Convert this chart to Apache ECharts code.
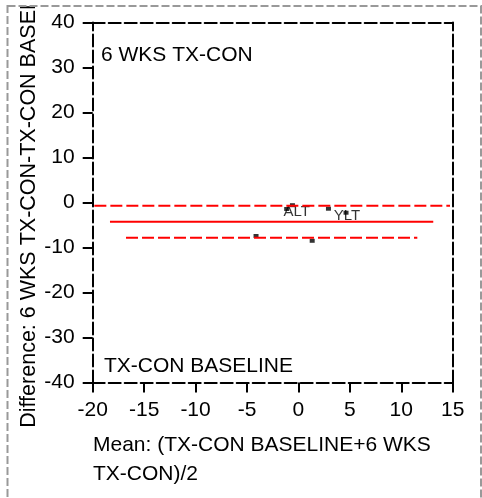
<!DOCTYPE html>
<html><head><meta charset="utf-8">
<script src="https://cdn.jsdelivr.net/npm/echarts@6/dist/echarts.min.js"></script>
<style>html,body{margin:0;padding:0;background:#fff}#c{width:482px;height:498px}</style>
</head><body><div id="c"></div>
<script>
// Data
const meanX = [-0.58, -1.14, 2.92, 4.63, -4.12, 1.34];
const diffY = [-0.6, -1.44, -1.38, -2.27, -7.44, -8.51];
const pointLabels = ['', 'ALT', '', 'YLT', '', ''];
const meanLineX = [-18.32, 13.11];
const meanLineY = [-4.27, -4.27];
const upperLineX = [-19.84, 14.74];
const upperLineY = [-0.71, -0.71];
const lowerLineX = [-16.76, 11.56];
const lowerLineY = [-7.82, -7.82];
const xTicks = {min: -20, max: 15, interval: 5};
const yTicks = {min: -40, max: 40, interval: 10};
const xTitle = 'Mean: (TX-CON BASELINE+6 WKS\nTX-CON)/2';
const yTitle = 'Difference: 6 WKS TX-CON-TX-CON BASELINE';
const topText = '6 WKS TX-CON';
const bottomText = 'TX-CON BASELINE';

const FONT = 'Liberation Sans, Arial, sans-serif';
const dash = [12, 4];
const axisLineStyle = {color: '#000', width: 2, type: dash};

const chart = echarts.init(document.getElementById('c'), null, {renderer: 'canvas'});
const pts = meanX.map((x, i) => {
  const d = {value: [x, diffY[i]]};
  if (pointLabels[i]) {
    d.label = {show: true, formatter: pointLabels[i], position: 'inside',
      offset: pointLabels[i] === 'ALT' ? [10, 3] : [1, 3],
      fontSize: 15, color: '#000', fontFamily: FONT};
  }
  return d;
});
const lineSeries = (xs, ys, type) => ({
  type: 'line', data: xs.map((x, i) => [x, ys[i]]), symbol: 'none', silent: true,
  lineStyle: {color: '#ff0000', width: 2, type: type}, z: 3
});
chart.setOption({
  animation: false,
  backgroundColor: '#fff',
  grid: {left: 92.7, top: 22.5, width: 360, height: 360, containLabel: false},
  xAxis: [{
    type: 'value', min: xTicks.min, max: xTicks.max, interval: xTicks.interval,
    axisLine: {show: true, onZero: false, lineStyle: axisLineStyle},
    axisTick: {show: true, inside: false, length: 10, lineStyle: {color: '#000', width: 2}},
    axisLabel: {fontSize: 21, color: '#000', margin: 17, fontFamily: FONT},
    splitLine: {show: false}
  }, {
    type: 'value', position: 'top', min: xTicks.min, max: xTicks.max, interval: xTicks.interval,
    axisLine: {show: true, onZero: false, lineStyle: axisLineStyle},
    axisTick: {show: false}, axisLabel: {show: false}, splitLine: {show: false}
  }],
  yAxis: [{
    type: 'value', min: yTicks.min, max: yTicks.max, interval: yTicks.interval,
    axisLine: {show: true, onZero: false, lineStyle: axisLineStyle},
    axisTick: {show: true, inside: false, length: 10, lineStyle: {color: '#000', width: 2}},
    axisLabel: {fontSize: 21, color: '#000', margin: 18, fontFamily: FONT},
    splitLine: {show: false}
  }, {
    type: 'value', position: 'right', min: yTicks.min, max: yTicks.max, interval: yTicks.interval,
    axisLine: {show: true, onZero: false, lineStyle: axisLineStyle},
    axisTick: {show: false}, axisLabel: {show: false}, splitLine: {show: false}
  }],
  series: [
    {type: 'scatter', data: pts, symbol: 'rect', symbolSize: [5, 4],
     itemStyle: {color: '#000'}, z: 2},
    lineSeries(upperLineX, upperLineY, dash),
    lineSeries(meanLineX, meanLineY, 'solid'),
    lineSeries(lowerLineX, lowerLineY, dash)
  ],
  graphic: [
    {type: 'text', x: 29.5, y: 195, rotation: Math.PI / 2, z: 1,
     style: {text: yTitle, font: '21.5px ' + FONT, fill: '#000', textAlign: 'center', textVerticalAlign: 'middle'}},
    {type: 'rect', shape: {x: 0, y: 0, width: 482, height: 5}, style: {fill: '#fff'}, z: 2},
    {type: 'rect', shape: {x: 7.5, y: 6, width: 473.5, height: 520}, z: 3,
     style: {fill: 'none', stroke: '#999', lineWidth: 2, lineDash: [8, 3]}},
    {type: 'text', x: 93, y: 430.5, z: 1,
     style: {text: xTitle, font: '21px ' + FONT, fill: '#000', textAlign: 'left', textVerticalAlign: 'top', lineHeight: 29}},
    {type: 'text', x: 101, y: 55, z: 1,
     style: {text: topText, font: '21px ' + FONT, fill: '#000', textAlign: 'left', textVerticalAlign: 'middle'}},
    {type: 'text', x: 104, y: 366, z: 1,
     style: {text: bottomText, font: '21px ' + FONT, fill: '#000', textAlign: 'left', textVerticalAlign: 'middle'}}
  ]
});
</script></body></html>
